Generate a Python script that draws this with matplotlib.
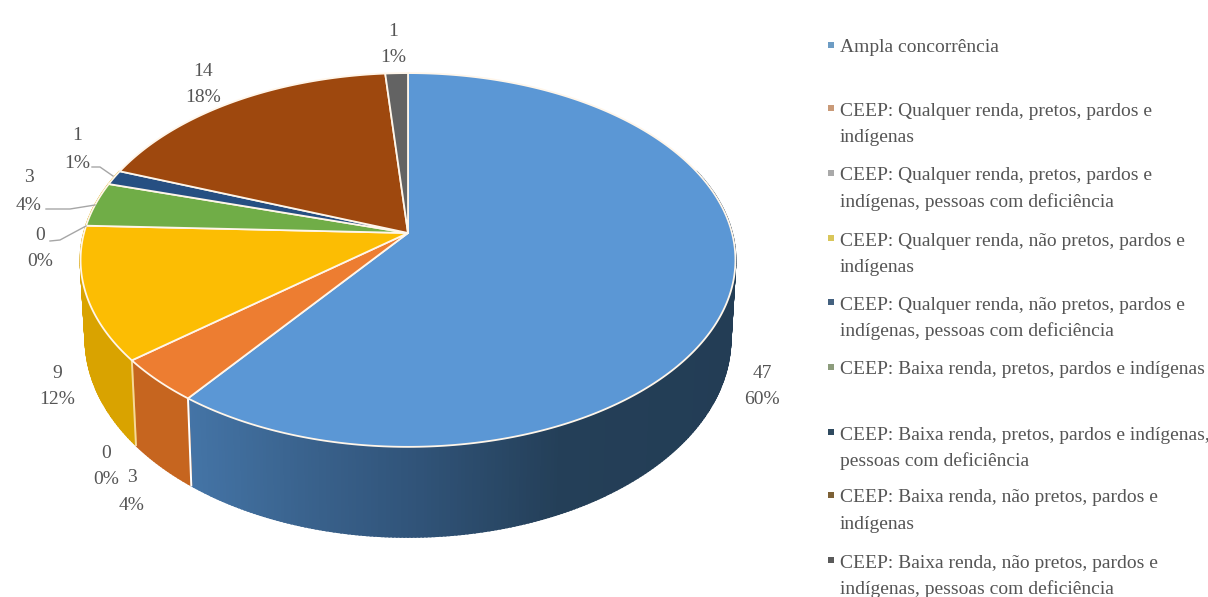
import numpy as np
import matplotlib
matplotlib.use('Agg')
import matplotlib.pyplot as plt
from matplotlib.patches import Polygon

# Slices, clockwise from the top
values = [47, 3, 0, 9, 0, 3, 1, 14, 1]
percents = ['60%', '4%', '0%', '12%', '0%', '4%', '1%', '18%', '1%']
top_colors = ['#5b97d5', '#ed7d31', '#a5a5a5', '#fcbd03', '#255e91',
              '#70ad47', '#264f82', '#9e480e', '#636363']
legend_labels = [
    'Ampla concorrência',
    'CEEP: Qualquer renda, pretos, pardos e\nindígenas',
    'CEEP: Qualquer renda, pretos, pardos e\nindígenas, pessoas com deficiência',
    'CEEP: Qualquer renda, não pretos, pardos e\nindígenas',
    'CEEP: Qualquer renda, não pretos, pardos e\nindígenas, pessoas com deficiência',
    'CEEP: Baixa renda, pretos, pardos e indígenas',
    'CEEP: Baixa renda, pretos, pardos e indígenas,\npessoas com deficiência',
    'CEEP: Baixa renda, não pretos, pardos e\nindígenas',
    'CEEP: Baixa renda, não pretos, pardos e\nindígenas, pessoas com deficiência',
]
legend_marker_colors = ['#6d9cc4', '#c99a78', '#a9a9a9', '#d9c65a', '#44617f',
                        '#8c9c7c', '#2f4a5f', '#7d6136', '#5a5a5a']

# Pixel layout of the picture
legend_y = [45, 108, 173, 238, 302, 367, 432, 495, 560]
label_xy = [(762, 370), (132, 475), (106, 450), (57, 370), (40, 232),
            (29, 175), (77, 133), (203, 68), (393, 28)]
leaders = [([92, 100, 113], [167, 167, 176]),
           ([46, 70, 95], [209, 209, 205]),
           ([50, 60, 86], [241, 240, 226])]

# Perspective of the disc
cx, cy = 408, 233
R, b, k = 324, 183, 0.1443
h = 77
text_shift = 3


def rim(theta, depth=0.0):
    u = np.sin(theta)
    v = -np.cos(theta)
    d = 1 - k * v
    x = cx + R * u * (1 - 0.015 * depth) / d
    y = cy + b * v / d + h * depth / d
    return x, y


def side_color(i, x):
    # Side faces get darker going right, like the Excel shading
    if i == 0:
        xs = [188, 300, 420, 560, 740]
        reds = [0x44, 0x3a, 0x30, 0x24, 0x23]
        greens = [0x74, 0x63, 0x53, 0x3f, 0x3d]
        blues = [0xa6, 0x8e, 0x78, 0x58, 0x55]
        return (np.interp(x, xs, reds) / 255, np.interp(x, xs, greens) / 255,
                np.interp(x, xs, blues) / 255)
    if i == 1:
        return '#c6651f'
    return '#d9a300'


fig = plt.figure(figsize=(12.08, 5.97), dpi=100)
ax = fig.add_axes([0, 0, 1, 1])
ax.set_xlim(0, 1208)
ax.set_ylim(597, 0)
ax.axis('off')

edges = np.concatenate([[0], np.cumsum(values)]) / np.sum(values) * 2 * np.pi

# Side wall
for i, value in enumerate(values):
    if value == 0:
        continue
    t0, t1 = edges[i], edges[i + 1]
    ts = np.linspace(t0, t1, max(int(value * 8), 4) + 1)
    for a, c in zip(ts[:-1], ts[1:]):
        if np.cos((a + c) / 2) > 0.35:
            continue
        xt, yt = rim(np.array([a, c]))
        xb, yb = rim(np.array([a, c]), 1.0)
        col = side_color(i, xt.mean())
        ax.add_patch(Polygon(list(zip(xt, yt)) + list(zip(xb[::-1], yb[::-1])),
                             closed=True, facecolor=col, edgecolor=col, lw=1.4, zorder=2))

# Vertical joints on the side wall
for i in [1, 3]:
    t = edges[i]
    xt, yt = rim(t)
    xb, yb = rim(t, 1.0)
    color = 'white' if i == 1 else '#f6d79a'
    ax.plot([xt, xb], [yt, yb], color=color, lw=1.4, zorder=3)

# Top face
for i, value in enumerate(values):
    if value == 0:
        continue
    ts = np.linspace(edges[i], edges[i + 1], max(value * 6, 8))
    x, y = rim(ts)
    poly = [(cx, cy)] + list(zip(x, y))
    ax.add_patch(Polygon(poly, closed=True, facecolor=top_colors[i],
                         edgecolor='#fff6ea', lw=1.3, joinstyle='round', zorder=4))

# Data labels
text_color = '#555555'
serif = 'Liberation Serif'
for value, pct, (lx, ly) in zip(values, percents, label_xy):
    ax.text(lx, ly + text_shift, str(value), ha='center', va='center', fontsize=14,
            family=serif, color=text_color, zorder=6)
    ax.text(lx, ly + 27 + text_shift, pct, ha='center', va='center', fontsize=14,
            family=serif, color=text_color, zorder=6)

for xs, ys in leaders:
    ax.plot(xs, ys, color='#a6a6a6', lw=1, zorder=5)

# Legend
for label, ly, col in zip(legend_labels, legend_y, legend_marker_colors):
    ax.scatter([831], [ly], s=14, marker='s', color=col, linewidths=0, zorder=6)
    for j, line in enumerate(label.split('\n')):
        ax.text(840, ly + text_shift + j * 26.5, line, ha='left', va='center', fontsize=14,
                family=serif, color=text_color, zorder=6)

fig.savefig('out.png', dpi=100, facecolor='white')
